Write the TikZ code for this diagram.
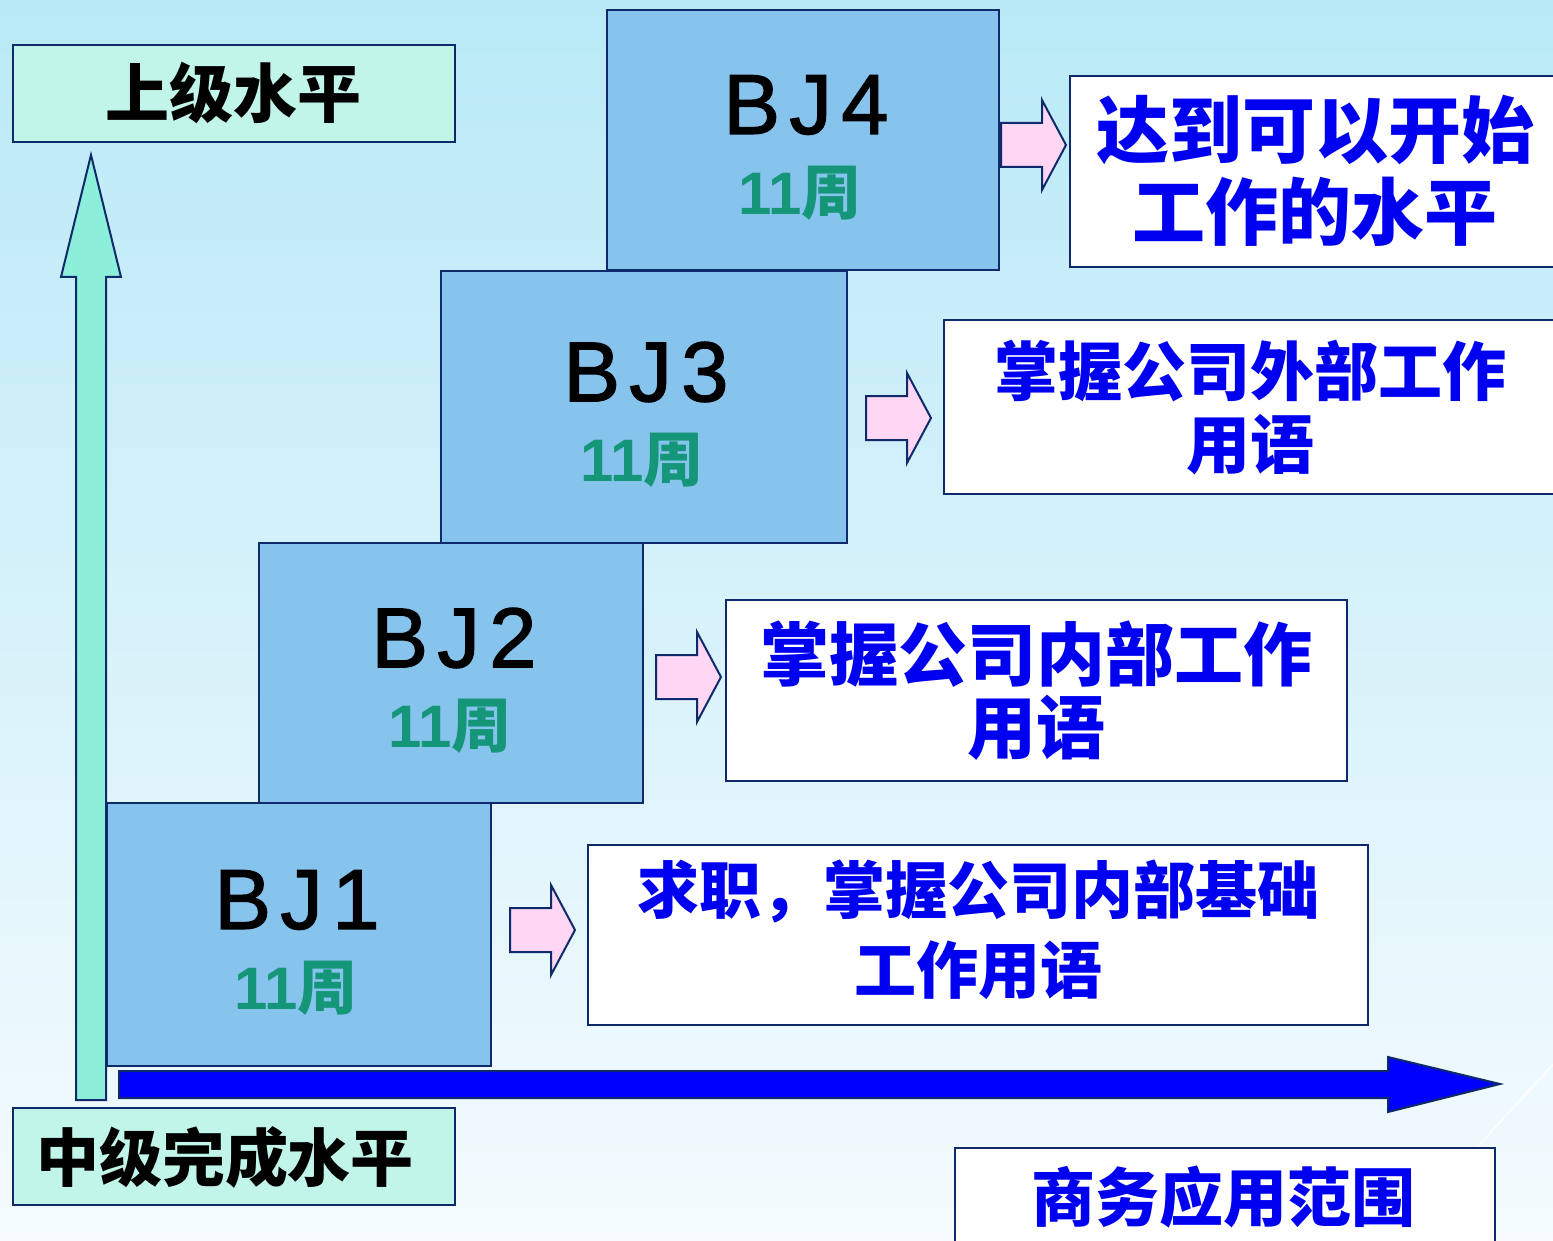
\documentclass[tikz,border=0pt]{standalone}
\usepackage{fontspec}
\setmainfont{Liberation Sans}
\newfontfamily\cjk{Noto Sans CJK SC}
\newfontfamily\bjfont{Liberation Sans}[LetterSpace=11, FakeBold=1.6]
\definecolor{bgtop}{HTML}{B9E9F7}
\definecolor{bgbot}{HTML}{F5FBFE}
\definecolor{navy}{HTML}{0F2A6B}
\definecolor{mint}{HTML}{C2F5EA}
\definecolor{bjblue}{HTML}{86C4EE}
\definecolor{aqua}{HTML}{8CEFD9}
\definecolor{pinkfill}{HTML}{FFD6F3}
\definecolor{txtblue}{HTML}{0000F0}
\definecolor{arrblue}{HTML}{0000FF}
\definecolor{wkgreen}{HTML}{159679}
\tikzset{
  edge/.style={draw=navy, line width=1pt, line join=miter},
  plainbox/.style={edge, inner sep=0pt, anchor=north west},
  lvlbox/.style={plainbox, fill=mint, minimum width=221pt, minimum height=48.5pt},
  bjbox/.style={plainbox, fill=bjblue},
  txtbox/.style={plainbox, fill=white},
  lvltext/.style={font=\cjk\bfseries, text=black, inner sep=0pt},
  bjtext/.style={font=\bjfont\fontsize{42.5}{42.5}\selectfont, text=black, inner sep=0pt},
  wktext/.style={font=\bfseries\fontsize{30}{30}\selectfont, text=wkgreen, inner sep=0pt},
  bluetext/.style={font=\cjk\bfseries, text=txtblue, inner sep=0pt, align=center},
  pinkarrow/.pic={\draw[edge, fill=pinkfill] (0,-22) -- (41,-22) -- (41,-45) -- (65,0) -- (41,45) -- (41,22) -- (0,22) -- cycle;}
}
\begin{document}
\begin{tikzpicture}[x=0.5pt,y=-0.5pt]
\useasboundingbox (0,0) rectangle (1553,1241);
\clip (0,0) rectangle (1553,1241);
\shade[top color=bgtop, bottom color=bgbot] (0,0) rectangle (1553,1241);
\draw[white, line width=1pt, opacity=0.8] (1562,1055) -- (1440,1187);

% level labels
\node[lvlbox] (uplvl) at (12,44) {};
\node[lvlbox] (lowlvl) at (12,1107) {};
\node[lvltext, font=\cjk\bfseries\fontsize{32}{32}\selectfont] (uptxt) at (233,93) {上级水平};
\node[lvltext, font=\cjk\bfseries\fontsize{31.5}{31.5}\selectfont] (lowtxt) at (225,1157) {中级完成水平};

% vertical arrow
\draw[edge, fill=aqua] (76,1100) -- (76,277) -- (61,277) -- (91,155) -- (121,277) -- (106,277) -- (106,1100) -- cycle;

% BJ boxes
\node[bjbox, minimum width=192pt, minimum height=131.5pt] (bj1) at (106,802) {};
\node[bjbox, minimum width=192pt, minimum height=130pt] (bj2) at (258,542) {};
\node[bjbox, minimum width=203pt, minimum height=136pt] (bj3) at (440,270) {};
\node[bjbox, minimum width=196pt, minimum height=130pt] (bj4) at (606,9) {};

\node[bjtext] (bj1t) at (297,900) {BJ1};
\node[wktext] (bj1w) at (296,988) {11{\cjk 周}};
\node[bjtext] (bj2t) at (454,638) {BJ2};
\node[wktext] (bj2w) at (450,726) {11{\cjk 周}};
\node[bjtext] (bj3t) at (646,372) {BJ3};
\node[wktext] (bj3w) at (642,460) {11{\cjk 周}};
\node[bjtext] (bj4t) at (806,105) {BJ4};
\node[wktext] (bj4w) at (800,193) {11{\cjk 周}};

% pink arrows
\pic (pa4) at (1001,145) {pinkarrow};
\pic (pa3) at (866,418) {pinkarrow};
\pic (pa2) at (656,677) {pinkarrow};
\pic (pa1) at (510,930) {pinkarrow};

% text boxes
\node[txtbox, minimum width=250pt, minimum height=95.5pt] (t4) at (1069,75) {};
\node[txtbox, minimum width=310pt, minimum height=87pt] (t3) at (943,319) {};
\node[txtbox, minimum width=310.5pt, minimum height=90.5pt] (t2) at (725,599) {};
\node[txtbox, minimum width=390pt, minimum height=90pt] (t1) at (587,844) {};
\node[txtbox, minimum width=270pt, minimum height=55pt] (tb) at (954,1147) {};

\node[bluetext, font=\cjk\bfseries\fontsize{36.5}{41}\selectfont] (t4t) at (1315,171) {达到可以开始\\工作的水平};
\node[bluetext, font=\cjk\bfseries\fontsize{32}{36.5}\selectfont] (t3t) at (1250,408) {掌握公司外部工作\\用语};
\node[bluetext, font=\cjk\bfseries\fontsize{34.5}{36.5}\selectfont] (t2t) at (1036,691) {掌握公司内部工作\\用语};
\node[bluetext, font=\cjk\bfseries\fontsize{31}{40}\selectfont] (t1t) at (978,930) {求职，掌握公司内部基础\\工作用语};
\node[bluetext, font=\cjk\bfseries\fontsize{32}{32}\selectfont] (tbt) at (1223,1197) {商务应用范围};

% horizontal arrow
\draw[edge, fill=arrblue] (119,1071) -- (1388,1071) -- (1388,1057) -- (1500,1084) -- (1388,1112) -- (1388,1098) -- (119,1098) -- cycle;
\end{tikzpicture}
\end{document}
